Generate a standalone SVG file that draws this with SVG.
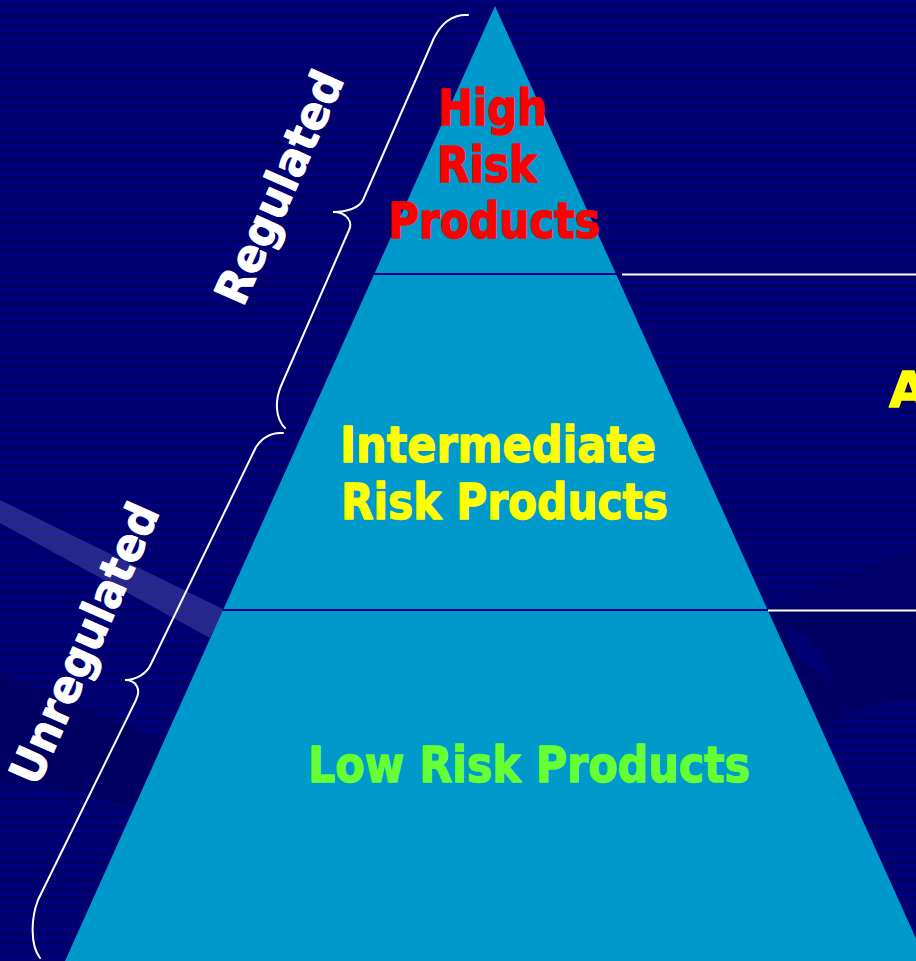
<svg xmlns="http://www.w3.org/2000/svg" width="916" height="961" viewBox="0 0 916 961">
  <defs>
    <pattern id="stripes" width="916" height="9" patternUnits="userSpaceOnUse">
      <rect width="916" height="9" fill="#00007a"/>
      <rect y="5" width="916" height="4" fill="#000066"/>
    </pattern>
    <style>
      .tier { fill: #0099cc; }
      .divider { stroke: #000080; stroke-width: 2; fill: none; }
      .leader { stroke: #ffffff; stroke-width: 2; fill: none; }
      .brace { stroke: #ffffff; stroke-width: 2; fill: none; stroke-linecap: round; }
      .label { font-family: "DejaVu Sans", "Liberation Sans", sans-serif; font-weight: bold; font-size: 50px; stroke-width: 1.4; stroke-linejoin: round; }
      .red { fill: #ff0000; stroke: #ff0000; }
      .yellow { fill: #ffff00; stroke: #ffff00; }
      .green { fill: #66ff33; stroke: #66ff33; }
      .side { font-family: "DejaVu Sans", "Liberation Sans", sans-serif; font-weight: bold; font-size: 46px; fill: #ffffff; stroke: #ffffff; stroke-width: 1; stroke-linejoin: round; }
    </style>
  </defs>

  <!-- background with horizontal banding and template shapes -->
  <g id="background">
    <rect width="916" height="961" fill="url(#stripes)"/>
    <path d="M0,672 L172,746 L150,800 C130,806 118,806 108,800 C80,788 40,784 0,785 Z" fill="#000062"/>
    <path d="M916,548 L767,610 L916,610 Z" fill="#000068"/>
    <path d="M768,612 L916,612 L916,700 C885,702 860,706 840,716 L822,730 Z" fill="#000062"/>
    <path d="M785,628 C805,632 825,650 832,680 C815,672 800,660 790,645 Z" fill="#00007a" opacity="0.8"/>
    <path d="M0,500 L225,610 L210,638 L0,523 Z" fill="#8c8cd8" opacity="0.28"/>
  </g>

  <!-- pyramid tiers -->
  <g id="tier-high">
    <polygon class="tier" points="495,6 616,274 374.3,274"/>
    <text class="label red" x="438" y="125" textLength="109" lengthAdjust="spacingAndGlyphs">High</text>
    <text class="label red" x="437" y="182" textLength="100" lengthAdjust="spacingAndGlyphs">Risk</text>
    <text class="label red" x="388" y="238" textLength="212" lengthAdjust="spacingAndGlyphs">Products</text>
  </g>
  <g id="tier-intermediate">
    <polygon class="tier" points="374.3,274 616,274 767.7,610 223,610"/>
    <text class="label yellow" x="340" y="462" textLength="316" lengthAdjust="spacingAndGlyphs">Intermediate</text>
    <text class="label yellow" x="341" y="519" textLength="327" lengthAdjust="spacingAndGlyphs">Risk Products</text>
  </g>
  <g id="tier-low">
    <polygon class="tier" points="223,610 767.7,610 926.2,961 65,961"/>
    <text class="label green" x="308" y="782" textLength="442" lengthAdjust="spacingAndGlyphs">Low Risk Products</text>
  </g>

  <!-- tier dividers and leader lines -->
  <g id="connectors">
    <line class="divider" x1="374" y1="274" x2="616" y2="274"/>
    <line class="divider" x1="223" y1="610" x2="768" y2="610"/>
    <line class="leader" x1="622" y1="274.5" x2="916" y2="274.5"/>
    <line class="leader" x1="768" y1="610.5" x2="916" y2="610.5"/>
  </g>

  <!-- side braces -->
  <g id="brace-regulated">
    <path class="brace" d="M468,15 C452,14 441,24 434,38 L363,200 C359,208 347,212 333,212 C347,212 353,222 349,230 L281,386 C275,400 275,418 285,428"/>
    <text class="side" transform="translate(283,189) rotate(-66)" x="0" y="12" text-anchor="middle" textLength="250" lengthAdjust="spacingAndGlyphs">Regulated</text>
  </g>
  <g id="brace-unregulated">
    <path class="brace" d="M283,433 C270,432 262,438 256,447 L151,664 C147,673 137,680 125,680 C137,680 141,690 136,700 L38,900 C31,918 30,945 40,958"/>
    <text class="side" transform="translate(88,645) rotate(-66)" x="0" y="12" text-anchor="middle" textLength="302" lengthAdjust="spacingAndGlyphs">Unregulated</text>
  </g>

  <g id="label-right">
    <text class="label yellow" x="889" y="407">A</text>
  </g>
</svg>
